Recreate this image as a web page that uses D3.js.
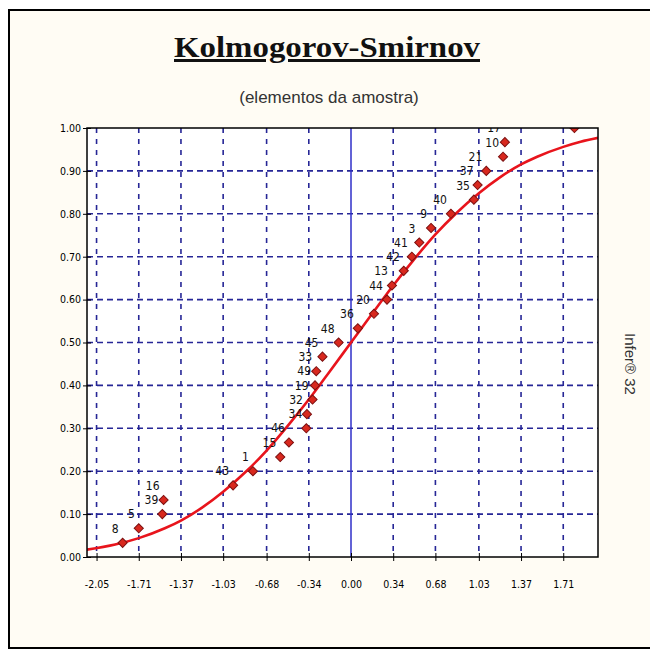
<!DOCTYPE html>
<html>
<head>
<meta charset="utf-8">
<script src="https://cdn.jsdelivr.net/npm/d3@7"></script>
<style>
  body { margin: 0; background: #fff; }
  svg { display: block; }
</style>
</head>
<body>
<div id="chart"></div>
<script>
// Kolmogorov-Smirnov chart

// sample elements: id, standardized value, cumulative frequency
var elementIds = ["8", "5", "39", "16", "43", "1", "15", "46", "34", "32",
                  "19", "49", "33", "45", "48", "36", "20", "44", "13", "42",
                  "41", "3", "9", "40", "35", "37", "21", "10", "17", "27"];
var zScores = [-1.84, -1.71, -1.52, -1.51, -0.95, -0.79, -0.57, -0.50, -0.36, -0.355,
               -0.31, -0.29, -0.28, -0.23, -0.10, 0.055, 0.185, 0.29, 0.33, 0.425,
               0.49, 0.55, 0.645, 0.805, 0.99, 1.02, 1.09, 1.225, 1.24, 1.80];
var cumFreq = [0.033, 0.067, 0.100, 0.133, 0.167, 0.200, 0.233, 0.267, 0.300, 0.333,
               0.367, 0.400, 0.433, 0.467, 0.500, 0.533, 0.567, 0.600, 0.633, 0.667,
               0.700, 0.733, 0.767, 0.800, 0.833, 0.867, 0.900, 0.933, 0.967, 1.000];

// theoretical curve
var curveX = [-2.13, -1.9, -1.71, -1.5, -1.37, -1.2, -1.03, -0.85, -0.68, -0.5, -0.34, -0.17, 0,
              0.17, 0.34, 0.5, 0.68, 0.85, 1.03, 1.2, 1.37, 1.5, 1.71, 1.85, 1.99];
var curveY = [0.017, 0.029, 0.044, 0.067, 0.085, 0.115, 0.152, 0.198, 0.248, 0.309, 0.367, 0.433, 0.5,
              0.567, 0.633, 0.691, 0.752, 0.802, 0.848, 0.885, 0.915, 0.933, 0.956, 0.968, 0.977];

// tick labels
var xTickLabels = ["-2.05", "-1.71", "-1.37", "-1.03", "-0.68", "-0.34", "0.00", "0.34", "0.68", "1.03", "1.37", "1.71"];
var yTickLabels = ["0.00", "0.10", "0.20", "0.30", "0.40", "0.50", "0.60", "0.70", "0.80", "0.90", "1.00"];

var W = 650, H = 653;
var plot = {left: 87, right: 598, top: 128, bottom: 557};
var tickFont = "'Liberation Sans Narrow', 'DejaVu Sans Condensed', 'Liberation Sans', sans-serif";

var svg = d3.select("#chart").append("svg")
    .attr("width", W)
    .attr("height", H);

// outer frame
svg.append("rect")
    .attr("x", 9).attr("y", 10)
    .attr("width", 700).attr("height", 638)
    .attr("fill", "#fffcf4")
    .attr("stroke", "#000")
    .attr("stroke-width", 2);

// title + subtitle
svg.append("text")
    .attr("x", 327).attr("y", 57)
    .attr("text-anchor", "middle")
    .attr("font-family", "'Liberation Serif', 'Times New Roman', serif")
    .attr("font-weight", "bold")
    .attr("font-size", 30)
    .attr("textLength", 306)
    .attr("lengthAdjust", "spacingAndGlyphs")
    .attr("text-decoration", "underline")
    .attr("fill", "#111")
    .text("Kolmogorov-Smirnov");

svg.append("text")
    .attr("x", 329).attr("y", 103)
    .attr("text-anchor", "middle")
    .attr("font-family", "'Liberation Sans', Arial, sans-serif")
    .attr("font-size", 17)
    .attr("fill", "#333")
    .text("(elementos da amostra)");

svg.append("text")
    .attr("transform", "translate(625,364) rotate(90)")
    .attr("text-anchor", "middle")
    .attr("font-family", "'Liberation Sans', Arial, sans-serif")
    .attr("font-size", 15)
    .attr("fill", "#333")
    .text("Infer\u00AE 32");

// scales
var x = d3.scaleLinear().domain([-2.127, 1.99]).range([plot.left, plot.right]);
var y = d3.scaleLinear().domain([0, 1]).range([plot.bottom, plot.top]);
var xTicks = xTickLabels.map(Number);
var yTicks = yTickLabels.map(Number);

svg.append("rect")
    .attr("x", plot.left).attr("y", plot.top)
    .attr("width", plot.right - plot.left)
    .attr("height", plot.bottom - plot.top)
    .attr("fill", "#fff");

svg.append("clipPath").attr("id", "clip")
  .append("rect")
    .attr("x", plot.left).attr("y", plot.top)
    .attr("width", plot.right - plot.left)
    .attr("height", plot.bottom - plot.top);

// grid
var grid = svg.append("g").attr("stroke", "#262696").attr("stroke-width", 1.6);
grid.selectAll(".hgrid")
    .data(yTicks.filter(function(d) { return d > 0 && d < 1; }))
    .enter().append("line")
    .attr("x1", plot.left).attr("x2", plot.right)
    .attr("y1", function(d) { return y(d); })
    .attr("y2", function(d) { return y(d); })
    .attr("stroke-dasharray", "6,4");
grid.selectAll(".vgrid")
    .data(xTicks.filter(function(d) { return d !== 0; }))
    .enter().append("line")
    .attr("x1", function(d) { return x(d); })
    .attr("x2", function(d) { return x(d); })
    .attr("y1", plot.top).attr("y2", plot.bottom)
    .attr("stroke-dasharray", "5,6");

// zero line
svg.append("line")
    .attr("x1", x(0)).attr("x2", x(0))
    .attr("y1", plot.top).attr("y2", plot.bottom)
    .attr("stroke", "#2f2fc8")
    .attr("stroke-width", 1.5);

var inner = svg.append("g").attr("clip-path", "url(#clip)");

// theoretical curve
var line = d3.line()
    .x(function(d, i) { return x(curveX[i]); })
    .y(function(d) { return y(d); })
    .curve(d3.curveMonotoneX);
inner.append("path")
    .attr("d", line(curveY))
    .attr("fill", "none")
    .attr("stroke", "#e8141c")
    .attr("stroke-width", 2.6);

// sample points
var pts = elementIds.map(function(id, i) { return {id: id, z: zScores[i], f: cumFreq[i]}; });
var diamond = d3.symbol().type(d3.symbolSquare).size(42);
inner.selectAll(".pt")
    .data(pts)
    .enter().append("path")
    .attr("d", diamond)
    .attr("transform", function(d) { return "translate(" + x(d.z) + "," + y(d.f) + ") rotate(45)"; })
    .attr("fill", "#d8281e")
    .attr("stroke", "#7c1010")
    .attr("stroke-width", 1);

inner.selectAll(".lbl")
    .data(pts)
    .enter().append("text")
    .attr("x", function(d) { return x(d.z) - 4; })
    .attr("y", function(d) { return y(d.f) - 10; })
    .attr("text-anchor", "end")
    .attr("font-family", tickFont)
    .attr("font-size", 12)
    .attr("fill", "#111")
    .text(function(d) { return d.id; });

// frame of plot
svg.append("rect")
    .attr("x", plot.left).attr("y", plot.top)
    .attr("width", plot.right - plot.left)
    .attr("height", plot.bottom - plot.top)
    .attr("fill", "none")
    .attr("stroke", "#000")
    .attr("stroke-width", 1.5);

// axes
var xAxis = d3.axisBottom(x)
    .tickValues(xTicks)
    .tickFormat(function(d, i) { return xTickLabels[i]; })
    .tickSizeInner(4).tickSizeOuter(0).tickPadding(20);
var gx = svg.append("g")
    .attr("transform", "translate(0," + plot.bottom + ")")
    .call(xAxis);
gx.select(".domain").remove();
gx.selectAll(".tick line").attr("y1", -4).attr("stroke", "#000");
gx.selectAll("text")
    .attr("font-family", tickFont)
    .attr("font-size", 10.5)
    .attr("fill", "#000");

var yAxis = d3.axisLeft(y)
    .tickValues(yTicks)
    .tickFormat(function(d, i) { return yTickLabels[i]; })
    .tickSizeInner(4).tickSizeOuter(0).tickPadding(2);
var gy = svg.append("g")
    .attr("transform", "translate(" + plot.left + ",0)")
    .call(yAxis);
gy.select(".domain").remove();
gy.selectAll(".tick line").attr("x1", 4).attr("stroke", "#000");
gy.selectAll("text")
    .attr("font-family", tickFont)
    .attr("font-size", 10.5)
    .attr("fill", "#000");
</script>
</body>
</html>
